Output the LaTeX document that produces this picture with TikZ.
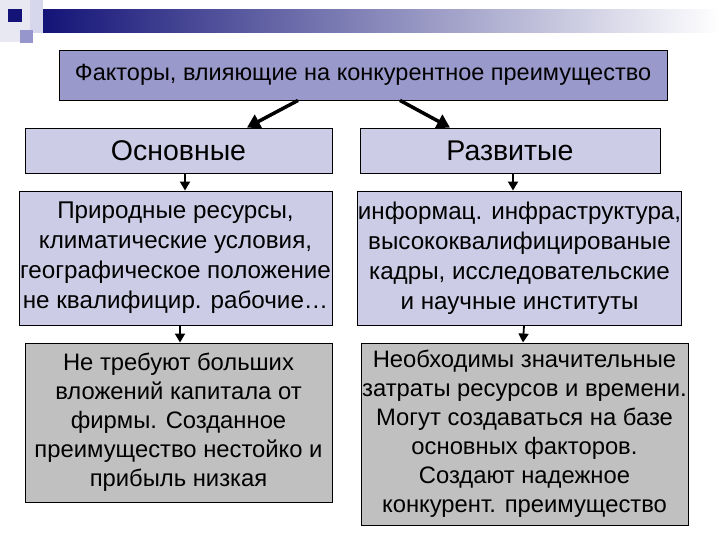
\documentclass[tikz,border=0pt]{standalone}
\usepackage{fontspec}
\setmainfont{Liberation Sans}
\usetikzlibrary{arrows.meta,calc}
\definecolor{titlefill}{RGB}{153,153,204}
\definecolor{lightfill}{RGB}{204,204,230}
\definecolor{grayfill}{RGB}{192,192,192}
\definecolor{navy}{RGB}{20,20,120}
\definecolor{decolight}{RGB}{214,214,236}
\definecolor{decomid}{RGB}{150,150,205}
\definecolor{decopale}{RGB}{232,232,242}
\tikzset{
  box/.style={draw=black, line width=0.9pt, inner sep=0pt, align=center, text=black},
  bigarrow/.style={line width=3.5pt, -{Triangle[width=15pt,length=13pt]}},
  smallarrow/.style={line width=1.8pt, -{Triangle[width=10pt,length=9pt]}},
}
\begin{document}
\begin{tikzpicture}[x=1pt,y=-1pt]
\useasboundingbox (0,0) rectangle (720,540);
\fill[white] (0,0) rectangle (720,540);
% decoration
\fill[decopale] (0,0) rectangle (30,42);
\shade[left color=navy, right color=white] (43,10) rectangle (720,33);
\fill[decolight] (30,0) rectangle (43,33);
\fill[decomid] (20,30) rectangle (33,43);
\fill[navy] (8,9) rectangle (22,22);
% nodes
\node[box, fill=titlefill, minimum width=608pt, minimum height=50pt, font=\fontsize{23.5}{27}\selectfont] (title) at (363,75) {Факторы, влияющие на конкурентное преимущество};
\node[box, fill=lightfill, minimum width=307pt, minimum height=45pt, font=\fontsize{28.5}{32}\selectfont] (osn) at (178.5,150.5) {Основные};
\node[box, fill=lightfill, minimum width=300pt, minimum height=45pt, font=\fontsize{28.5}{32}\selectfont] (razv) at (510,150.5) {Развитые};
\node[box, fill=lightfill, minimum width=313pt, minimum height=134pt, font=\fontsize{24.2}{30}\selectfont] (lm) at (175.5,258) {Природные ресурсы,\\климатические условия,\\географическое положение\\не квалифицир. рабочие…};
\node[box, fill=lightfill, minimum width=317pt, minimum height=134pt, font=\fontsize{24.2}{30}\selectfont] (rm) at (519.5,258) {информац. инфраструктура,\\высококвалифицированые\\кадры, исследовательские\\и научные институты};
\node[box, fill=grayfill, minimum width=307pt, minimum height=159pt, font=\fontsize{23.8}{29}\selectfont] (lb) at (178.5,422.5) {Не требуют больших\\вложений капитала от\\фирмы. Созданное\\преимущество нестойко и\\прибыль низкая};
\node[box, fill=grayfill, minimum width=327pt, minimum height=182pt, font=\fontsize{23.8}{29}\selectfont] (rb) at (524.5,434) {Необходимы значительные\\затраты ресурсов и времени.\\Могут создаваться на базе\\основных факторов.\\Создают надежное\\конкурент. преимущество};
% connectors
\draw[bigarrow] ([xshift=-65pt]title.south) -- ([xshift=68.5pt]osn.north);
\draw[bigarrow] ([xshift=37pt]title.south) -- ([xshift=-60pt]razv.north);
\draw[smallarrow] ([xshift=6.5pt]osn.south) -- ([xshift=9.5pt]lm.north);
\draw[smallarrow] ([xshift=3pt]razv.south) -- ([xshift=-6.5pt]rm.north);
\draw[smallarrow] ([xshift=4.5pt]lm.south) -- ([xshift=1.5pt]lb.north);
\draw[smallarrow] ([xshift=4.5pt]rm.south) -- ([xshift=-1.5pt]rb.north);
\end{tikzpicture}
\end{document}
